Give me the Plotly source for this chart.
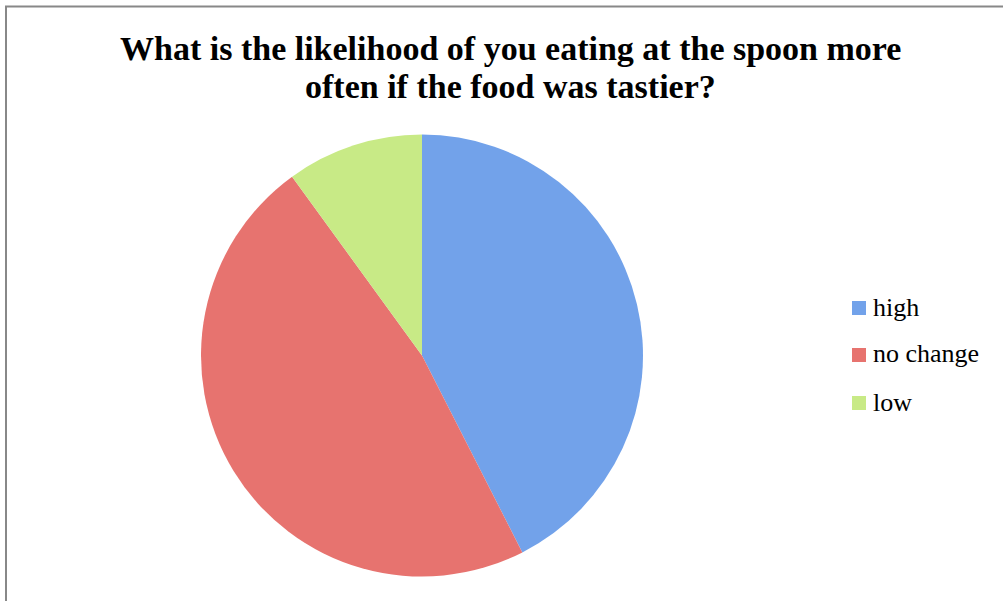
import plotly.graph_objects as go

labels = ["high", "no change", "low"]
values = [42.5, 47.5, 10.0]
colors = ["#72a2ea", "#e7736f", "#c8ea86"]
title_lines = ["What is the likelihood of you eating at the spoon more",
               "often if the food was tastier?"]

W, H = 1003, 601

fig = go.Figure()
fig.add_trace(go.Pie(
    labels=labels, values=values, sort=False, direction="clockwise", rotation=0,
    marker=dict(colors=colors, line=dict(width=0)),
    textinfo="none", hoverinfo="label+percent", showlegend=False,
    domain=dict(x=[201 / W, 643 / W], y=[(H - 577) / H, (H - 134) / H]),
))

# legend drawn from labels/colors
leg_y = [308, 355, 403]
for lab, col, yy in zip(labels, colors, leg_y):
    fig.add_shape(type="rect", xref="paper", yref="paper",
                  x0=852 / W, x1=866 / W, y0=(H - yy - 7) / H, y1=(H - yy + 7) / H,
                  fillcolor=col, line=dict(width=0))
    fig.add_annotation(text=lab, xref="paper", yref="paper", x=871 / W, y=(H - yy + 1) / H,
                       xanchor="left", yanchor="middle", showarrow=False,
                       font=dict(family="Liberation Serif", size=26, color="#000"))

for line, yy in zip(title_lines, [48, 87]):
    fig.add_annotation(text="<b>" + line + "</b>", xref="paper", yref="paper",
                       x=510 / W, y=(H - yy) / H, xanchor="center", yanchor="middle",
                       showarrow=False, align="center",
                       font=dict(family="Liberation Serif", size=34, color="#000"))

fig.add_shape(type="rect", xref="paper", yref="paper",
              x0=6 / W, x1=1.05, y0=-0.05, y1=(H - 6.5) / H,
              line=dict(color="#888888", width=2), fillcolor="rgba(0,0,0,0)")

fig.update_layout(width=W, height=H, margin=dict(l=0, r=0, t=0, b=0),
                  paper_bgcolor="white", plot_bgcolor="white")
fig.write_html("out.html")
